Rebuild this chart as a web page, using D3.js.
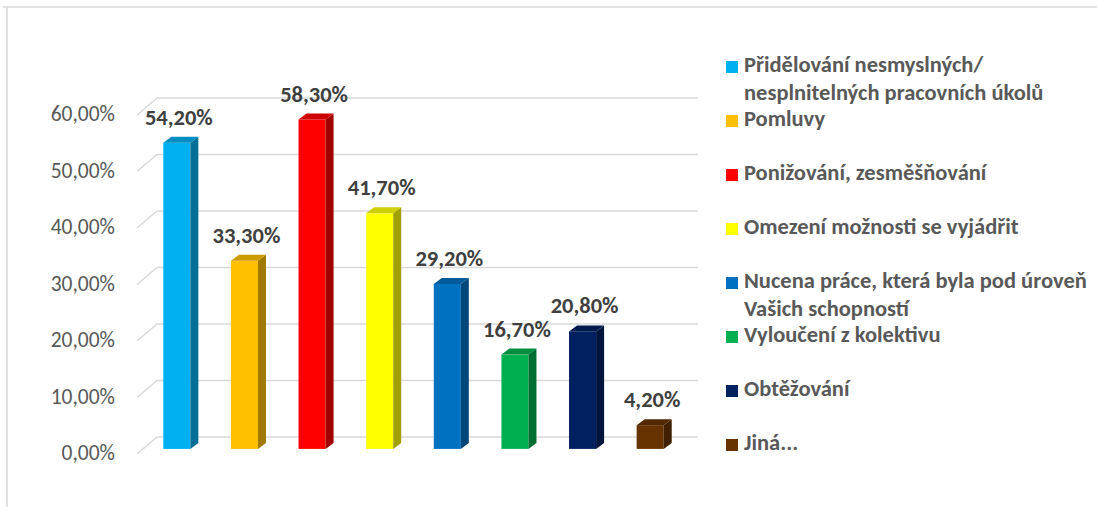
<!DOCTYPE html>
<html>
<head>
<meta charset="utf-8">
<script src="https://cdn.jsdelivr.net/npm/d3@7/dist/d3.min.js"></script>
<style>
  html, body { margin: 0; padding: 0; background: #fff; }
  svg { display: block; }
  text { font-family: Carlito, Lato, "Open Sans", sans-serif; }
</style>
</head>
<body>
<svg id="chart" width="1098" height="507"></svg>
<script>
// ---- data ----
const categories = [
  "Přidělování nesmyslných/\nnesplnitelných pracovních úkolů",
  "Pomluvy",
  "Ponižování, zesměšňování",
  "Omezení možnosti se vyjádřit",
  "Nucena práce, která byla pod úroveň\nVašich schopností",
  "Vyloučení z kolektivu",
  "Obtěžování",
  "Jiná..."
];
const values = [0.542, 0.333, 0.583, 0.417, 0.292, 0.167, 0.208, 0.042];
const colors = ["#00B0F0", "#FFC000", "#FF0000", "#FFFF00", "#0070C0", "#00B050", "#002060", "#663300"];
const yTicks = [0, 0.1, 0.2, 0.3, 0.4, 0.5, 0.6];

// ---- layout ----
const svg = d3.select("#chart");
const floorDX = 20, floorDY = 17;      // depth of the 3D floor
const barDepthFrac = 0.3;              // bars sit 30% into the depth
const barDX = 8, barDY = 6;            // bar's own depth
const fmt = v => d3.format(".2f")(v * 100).replace(".", ",") + "%";

// front-floor y scale
const yFront = d3.scaleLinear().domain([0, 0.6]).range([454, 454 - 0.6 * 565]);
const x = d3.scaleBand().domain(d3.range(categories.length))
  .range([137, 678]).paddingInner(0.6).paddingOuter(0.3);

// border
svg.append("line").attr("x1", 3).attr("x2", 1097).attr("y1", 7).attr("y2", 7)
  .attr("stroke", "#d9d9d9").attr("stroke-width", 1.5);
svg.append("line").attr("x1", 7).attr("x2", 7).attr("y1", 7).attr("y2", 507)
  .attr("stroke", "#d9d9d9").attr("stroke-width", 1.5);

// gridlines (diagonal side + back wall)
const grid = svg.append("g");
yTicks.forEach(t => {
  const yf = yFront(t);
  grid.append("path")
    .attr("d", `M137,${yf}L${137 + floorDX},${yf - floorDY}L${678 + floorDX},${yf - floorDY}`)
    .attr("fill", "none").attr("stroke", "#d9d9d9").attr("stroke-width", 1.5);
  grid.append("text").attr("x", 115).attr("y", yf + 1)
    .attr("text-anchor", "end").attr("dominant-baseline", "middle")
    .attr("font-size", 21.5).attr("fill", "#595959").text(fmt(t));
});

// bars
const offX = floorDX * barDepthFrac, offY = floorDY * barDepthFrac;
const bw = x.bandwidth();
const bars = svg.append("g");
values.forEach((v, i) => {
  const x0 = x(i) + offX;
  const yb = yFront(0) - offY;
  const yt = yFront(v) - offY;
  const c = d3.color(colors[i]);
  // front
  bars.append("rect").attr("x", x0).attr("y", yt).attr("width", bw).attr("height", yb - yt)
    .attr("fill", colors[i]);
  // side
  bars.append("path")
    .attr("d", `M${x0 + bw},${yt}L${x0 + bw + barDX},${yt - barDY}L${x0 + bw + barDX},${yb - barDY}L${x0 + bw},${yb}Z`)
    .attr("fill", c.darker(1.3));
  // top
  bars.append("path")
    .attr("d", `M${x0},${yt}L${x0 + barDX},${yt - barDY}L${x0 + bw + barDX},${yt - barDY}L${x0 + bw},${yt}Z`)
    .attr("fill", c.darker(0.6));
  // label
  bars.append("text").attr("x", x0 + (bw + barDX) / 2 - 2).attr("y", yt - barDY - 12)
    .attr("text-anchor", "middle").attr("font-size", 22.5).attr("font-weight", "bold")
    .attr("fill", "#404040").text(fmt(v));
});

// legend
const leg = svg.append("g");
categories.forEach((cat, i) => {
  const cy = 67 + i * 54;
  leg.append("rect").attr("x", 726).attr("y", cy - 6).attr("width", 12).attr("height", 12)
    .attr("fill", colors[i]);
  const lines = cat.split("\n");
  const t = leg.append("text").attr("font-size", 22.5).attr("font-weight", "bold").attr("fill", "#595959");
  lines.forEach((ln, j) => {
    t.append("tspan").attr("x", 744).attr("y", cy + j * 28).attr("dominant-baseline", "middle").text(ln);
  });
});
</script>
</body>
</html>
